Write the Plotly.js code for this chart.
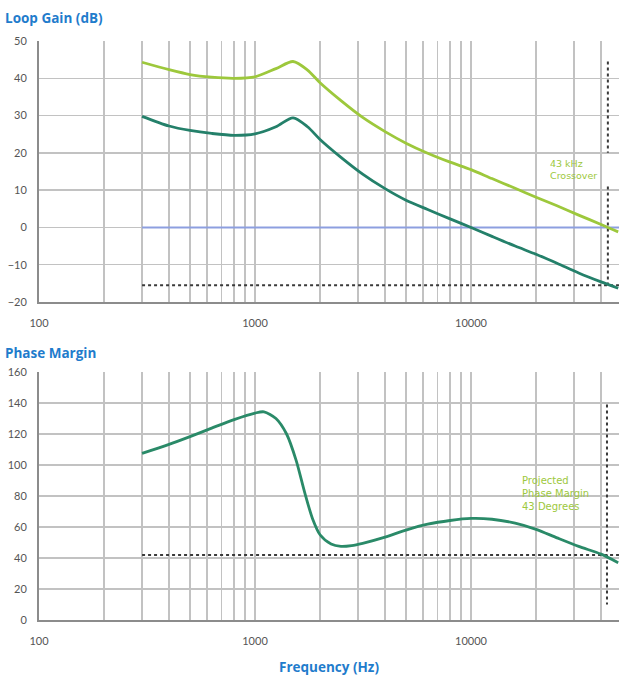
<!DOCTYPE html>
<html>
<head>
<meta charset="utf-8">
<script src="https://cdn.plot.ly/plotly-3.0.1.min.js"></script>
<style>html,body{margin:0;padding:0;background:#fff;}#chart{width:619px;height:677px;}</style>
</head>
<body>
<div id="chart"></div>
<script>
// ---- data ----
const gainFreq  = [300, 400, 500, 630, 800, 1000, 1250, 1500, 1750, 2000, 2500, 3150, 4000, 5000, 6300, 8000, 10000, 12500, 16000, 20000, 25000, 31500, 40000, 48000];
const gainHigh  = [44.3, 42.3, 41.0, 40.3, 40.0, 40.4, 42.6, 44.5, 42.2, 38.8, 34.0, 29.5, 25.7, 22.6, 19.9, 17.5, 15.5, 13.1, 10.5, 8.1, 5.8, 3.3, 0.8, -1.2];
const gainLow   = [29.8, 27.2, 26.0, 25.2, 24.7, 25.1, 27.0, 29.4, 27.0, 23.6, 18.8, 14.3, 10.4, 7.3, 4.8, 2.3, 0.0, -2.4, -5.0, -7.2, -9.6, -12.2, -14.6, -16.3];

const phaseFreq = [300, 400, 500, 630, 800, 1000, 1100, 1250, 1400, 1550, 1700, 1850, 2000, 2250, 2500, 2800, 3150, 4000, 5000, 6300, 8000, 10000, 12500, 16000, 20000, 25000, 31500, 40000, 48000];
const phaseVals = [107.5, 113.3, 118.3, 123.8, 129.3, 133.5, 134.3, 130, 120, 103, 82, 65, 55, 49, 47.5, 48, 49.5, 53.5, 58, 61.8, 64.2, 65.5, 65, 62.5, 58.5, 53, 47.5, 42.5, 37];

const zeroLineFreq = [300, 48400];
const zeroLineVals = [0, 0];
const gainLimitFreq = [300, 48400];
const gainLimitVals = [-15.5, -15.5];
const crossoverFreq = [43000, 43000, null, 43000, 43000];
const crossoverSpan = [44.5, 20, null, 11, -15.5];

const pmLimitFreq = [300, 48400];
const pmLimitVals = [42, 42];
const pmMarkFreq = [42600, 42600];
const pmMarkSpan = [139, 10];

const decadeTicks = [100, 1000, 10000];
const decadeLabels = ['100', '1000', '10000'];
const minorTicks = [200,300,400,500,600,700,800,900,2000,3000,4000,5000,6000,7000,8000,9000,20000,30000,40000];

const gainTicks = [-20,-10,0,10,20,30,40,50];
const phaseTicks = [0,20,40,60,80,100,120,140,160];

// ---- build ----
const lightGreen = '#9dc83c';
const darkGreen = '#24806a';
const gridCol = '#c2c2c2';
const axisCol = '#8c8c8c';
const fam = 'Lato, "Open Sans", sans-serif';
const titleFam = '"Open Sans", Lato, sans-serif';
const tickFont = {family: fam, size: 11, color: '#555555'};
const titleBlue = '#1f7ccc';

const allTicks = decadeTicks.concat(minorTicks).sort((a,b)=>a-b);
const allText = allTicks.map(v => { const i = decadeTicks.indexOf(v); return i >= 0 ? decadeLabels[i] : ''; });

const dashLine = {color: '#3a3a3a', width: 2, dash: '3px,3px'};

const traces = [
  {x: zeroLineFreq, y: zeroLineVals, xaxis: 'x', yaxis: 'y', mode: 'lines', line: {color: '#8d9fe0', width: 2}, hoverinfo: 'skip'},
  {x: gainLimitFreq, y: gainLimitVals, xaxis: 'x', yaxis: 'y', mode: 'lines', line: dashLine, hoverinfo: 'skip'},
  {x: crossoverFreq, y: crossoverSpan, xaxis: 'x', yaxis: 'y', mode: 'lines', line: dashLine, hoverinfo: 'skip', connectgaps: false},
  {x: gainFreq, y: gainHigh, xaxis: 'x', yaxis: 'y', mode: 'lines', line: {color: lightGreen, width: 2.8, shape: 'spline', smoothing: 0.8}},
  {x: gainFreq, y: gainLow, xaxis: 'x', yaxis: 'y', mode: 'lines', line: {color: darkGreen, width: 2.8, shape: 'spline', smoothing: 0.8}},
  {x: pmLimitFreq, y: pmLimitVals, xaxis: 'x2', yaxis: 'y2', mode: 'lines', line: dashLine, hoverinfo: 'skip'},
  {x: pmMarkFreq, y: pmMarkSpan, xaxis: 'x2', yaxis: 'y2', mode: 'lines', line: dashLine, hoverinfo: 'skip'},
  {x: phaseFreq, y: phaseVals, xaxis: 'x2', yaxis: 'y2', mode: 'lines', line: {color: '#2a8a68', width: 2.8, shape: 'spline', smoothing: 0.8}}
];

const xRange = [2, 4.685];
function xAxis(anchor, extra) {
  return Object.assign({
    type: 'log', range: xRange, anchor: anchor, domain: [0, 1],
    tickmode: 'array', tickvals: allTicks, ticktext: allText,
    showgrid: true, gridcolor: gridCol, gridwidth: 1.5,
    showline: true, linecolor: axisCol, linewidth: 2,
    ticks: '', tickfont: tickFont, ticklabelstandoff: 10, zeroline: false
  }, extra || {});
}
function yAxis(anchor, domain, range, ticks) {
  return {
    anchor: anchor, domain: domain, range: range,
    tickmode: 'array', tickvals: ticks,
    showgrid: true, gridcolor: gridCol, gridwidth: 1.5,
    showline: true, linecolor: axisCol, linewidth: 2,
    ticks: '', tickfont: tickFont, ticklabelstandoff: 8, zeroline: false
  };
}

const H = 677;
const layout = {
  width: 619, height: 677,
  margin: {l: 39, r: 0, t: 0, b: 0},
  paper_bgcolor: '#ffffff', plot_bgcolor: '#ffffff',
  showlegend: false,
  font: {family: fam},
  xaxis: xAxis('y'),
  yaxis: yAxis('x', [1 - 302/H, 1 - 41/H], [-20, 50], gainTicks),
  xaxis2: xAxis('y2', {title: {text: '<b>Frequency (Hz)</b>', font: {family: titleFam, size: 13.5, color: titleBlue}, standoff: 16}}),
  yaxis2: yAxis('x2', [1 - 620/H, 1 - 372/H], [0, 160], phaseTicks),
  annotations: [
    {xref: 'paper', yref: 'paper', x: -36/580, y: 1 - 18/H, xanchor: 'left', yanchor: 'middle', showarrow: false,
     text: '<b>Loop Gain (dB)</b>', font: {family: titleFam, size: 13.5, color: titleBlue}},
    {xref: 'paper', yref: 'paper', x: -36/580, y: 1 - 353/H, xanchor: 'left', yanchor: 'middle', showarrow: false,
     text: '<b>Phase Margin</b>', font: {family: titleFam, size: 13.5, color: titleBlue}},
    {xref: 'x', yref: 'y', x: 4.356, y: 15.5, xanchor: 'left', yanchor: 'middle', showarrow: false, align: 'left',
     text: '43 kHz<br>Crossover', font: {family: '"DejaVu Sans", sans-serif', size: 9.5, color: lightGreen}},
    {xref: 'x2', yref: 'y2', x: 4.227, y: 81.6, xanchor: 'left', yanchor: 'middle', showarrow: false, align: 'left',
     text: 'Projected<br>Phase Margin<br>43 Degrees', font: {family: '"DejaVu Sans", sans-serif', size: 10, color: lightGreen}}
  ]
};

Plotly.newPlot('chart', traces, layout, {staticPlot: true, displayModeBar: false});
</script>
</body>
</html>
